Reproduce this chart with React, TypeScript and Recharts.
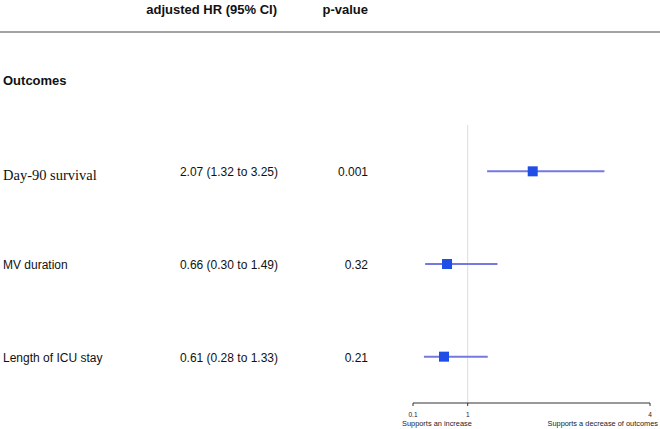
import React from 'react';
import {
  ScatterChart,
  Scatter,
  XAxis,
  YAxis,
  ErrorBar,
  ReferenceLine,
  Customized,
} from 'recharts';

const rowLabels = ['Day-90 survival', 'MV duration', 'Length of ICU stay'];
const hrValues = [2.07, 0.66, 0.61];
const lowerCI = [1.32, 0.3, 0.28];
const upperCI = [3.25, 1.49, 1.33];
const pValues = ['0.001', '0.32', '0.21'];
const xTicks = [0.1, 1, 4];
const xTickLabels = ['0.1', '1', '4'];
const leftNote = 'Supports an increase';
const rightNote = 'Supports a decrease of outcomes';
const headerEstimate = 'adjusted HR (95% CI)';
const headerP = 'p-value';
const sectionTitle = 'Outcomes';

const fmt = (v: number) => v.toFixed(2);

const rows = rowLabels.map((label, i) => ({
  row: i + 1,
  label,
  hr: hrValues[i],
  err: [hrValues[i] - lowerCI[i], upperCI[i] - hrValues[i]],
  text: `${fmt(hrValues[i])} (${fmt(lowerCI[i])} to ${fmt(upperCI[i])})`,
  p: pValues[i],
}));

const SANS = '"Liberation Sans", Arial, Helvetica, sans-serif';
const SERIF = '"Liberation Serif", "Times New Roman", Times, serif';

const RowText = (props: any) => {
  const { cy, payload } = props;
  if (!payload || cy == null) return null;
  const serif = payload.row === 1;
  return (
    <g>
      <text
        x={3}
        y={cy + (serif ? 4 : 1)}
        dominantBaseline="central"
        fontFamily={serif ? SERIF : SANS}
        fontSize={serif ? 14.5 : 12}
        fill="#111"
      >
        {payload.label}
      </text>
      <text x={278} y={cy + 1} dominantBaseline="central" textAnchor="end" fontFamily={SANS} fontSize={12} fill="#111">
        {payload.text}
      </text>
      <text x={368} y={cy + 1} dominantBaseline="central" textAnchor="end" fontFamily={SANS} fontSize={12} fill="#111">
        {payload.p}
      </text>
    </g>
  );
};

const XTick = (props: any) => {
  const { x, payload } = props;
  const idx = xTicks.indexOf(payload.value);
  const label = idx >= 0 ? xTickLabels[idx] : String(payload.value);
  return (
    <g>
      <text x={x} y={414} dominantBaseline="central" textAnchor="middle" fontFamily={SANS} fontSize={6.5} fill="#222">
        {label}
      </text>
      {idx === 0 && (
        <text x={x - 11} y={423} dominantBaseline="central" textAnchor="start" fontFamily={SANS} fontSize={7.4} fill="#222">
          {leftNote}
        </text>
      )}
      {idx === xTicks.length - 1 && (
        <text x={x + 8} y={423} dominantBaseline="central" textAnchor="end" fontFamily={SANS} fontSize={7.4} fill="#222">
          {rightNote}
        </text>
      )}
    </g>
  );
};

const Header = () => (
  <g>
    <text x={277} y={9} dominantBaseline="central" textAnchor="end" fontFamily={SANS} fontSize={13} fontWeight="bold" fill="#111">
      {headerEstimate}
    </text>
    <text x={368} y={9} dominantBaseline="central" textAnchor="end" fontFamily={SANS} fontSize={13} fontWeight="bold" fill="#111">
      {headerP}
    </text>
    <line x1={0} x2={660} y1={32} y2={32} stroke="#a3a3a3" strokeWidth={2.2} />
    <text x={3} y={80} dominantBaseline="central" fontFamily={SANS} fontSize={13} fontWeight="bold" fill="#111">
      {sectionTitle}
    </text>
  </g>
);

const Square = (props: any) => {
  const { cx, cy } = props;
  const s = 10;
  return <rect x={cx - s / 2} y={cy - s / 2} width={s} height={s} fill="#1f4ee6" />;
};

export default function App() {
  return (
    <div style={{ position: 'absolute', left: 0, top: 0, width: 660, height: 429, background: '#fff' }}>
      <ScatterChart width={660} height={429} margin={{ top: 125, right: 10, bottom: 0, left: 413 }}>
        <Customized component={Header} />
        <XAxis
          type="number"
          dataKey="hr"
          domain={[0.1, 4]}
          ticks={xTicks}
          height={26}
          tickSize={3}
          stroke="#333"
          axisLine={{ stroke: '#333', strokeWidth: 1 }}
          tickLine={{ stroke: '#333', strokeWidth: 1 }}
          tick={<XTick />}
          interval={0}
        />
        <YAxis type="number" dataKey="row" domain={[0.5, 3.5]} reversed hide />
        <ReferenceLine x={1} stroke="#dcdce2" strokeWidth={1} />
        <Scatter data={rows} shape={<RowText />} isAnimationActive={false} />
        <Scatter data={rows} shape={<Square />} isAnimationActive={false}>
          <ErrorBar dataKey="err" direction="x" width={0} stroke="#7478e0" strokeWidth={2} isAnimationActive={false} />
        </Scatter>
      </ScatterChart>
    </div>
  );
}
